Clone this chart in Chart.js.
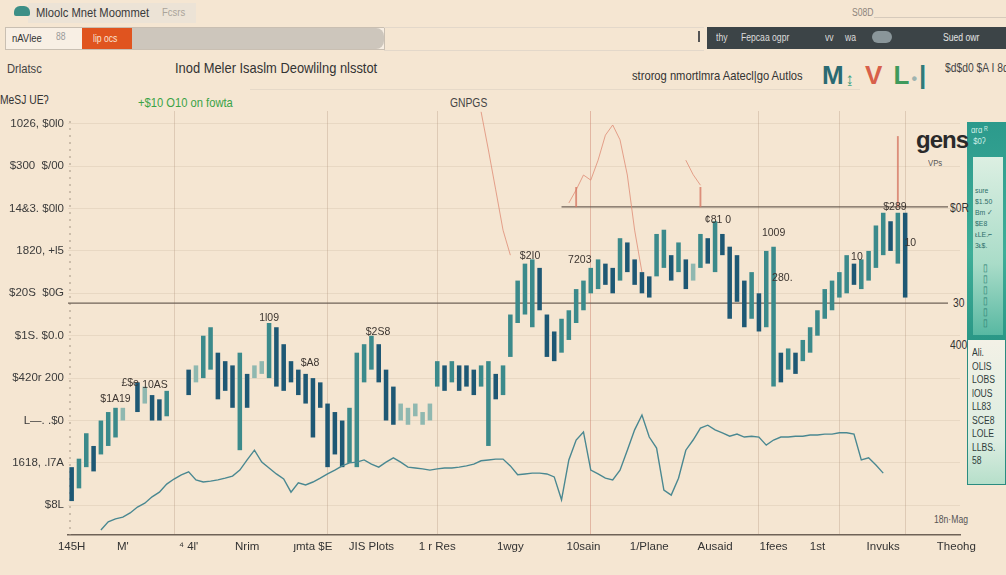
<!DOCTYPE html>
<html>
<head>
<meta charset="utf-8">
<script src="https://cdn.jsdelivr.net/npm/chart.js@4.4.1/dist/chart.umd.min.js"></script>
<style>
  body { margin: 0; background: #f5e6d2; overflow: hidden; font-family: "Liberation Sans", Arial, sans-serif; }
  #wrap { position: relative; width: 1006px; height: 575px; }
  #grafico { position: absolute; left: 0; top: 0; }
  .txt { position: absolute; white-space: nowrap; }
  .narrow { transform: scaleX(0.86); transform-origin: left top; }
</style>
</head>
<body>
<div id="wrap">
  <!-- cabecera -->
  <div class="txt" style="left:28px;top:3px;width:168px;height:20px;background:#ece3d6;"></div>
  <div class="txt" style="left:14px;top:6px;width:16px;height:10px;background:#3d8f86;border-radius:6px 6px 2px 2px;"></div>
  <div class="txt narrow" style="left:36px;top:5px;font-size:13px;color:#3a3a3a;">Mloolc Mnet Moommet</div>
  <div class="txt narrow" style="left:162px;top:6px;font-size:11px;color:#aaa39a;">Fcsrs</div>
  <div class="txt narrow" style="left:852px;top:7px;font-size:10px;color:#8d857c;">S08D</div>
  <div class="txt" style="left:874px;top:17px;width:132px;height:1px;background:#d6cabb;"></div>

  <div class="txt" style="left:5px;top:27px;width:378px;height:21px;border:1px solid #c9bfb2;background:#f8efe4;"></div>
  <div class="txt" style="left:132px;top:28px;width:252px;height:21px;background:#cdc6bc;border-radius:0 8px 8px 0;"></div>
  <div class="txt narrow" style="left:12px;top:32px;font-size:11px;color:#333;">nAVlee</div>
  <div class="txt narrow" style="left:56px;top:31px;font-size:10px;color:#9a9a9a;">88</div>
  <div class="txt" style="left:82px;top:28px;width:50px;height:21px;background:#e0541f;"></div>
  <div class="txt narrow" style="left:93px;top:33px;font-size:10px;color:#fbe3d4;">lip ocs</div>
  <div class="txt" style="left:384px;top:27px;width:320px;height:22px;border-top:1px solid #e3d8ca;border-bottom:1px solid #e3d8ca;"></div>
  <div class="txt" style="left:698px;top:31px;width:2px;height:11px;background:#555;"></div>
  <div class="txt" style="left:707px;top:27px;width:299px;height:22px;background:#3c4447;"></div>
  <div class="txt narrow" style="left:716px;top:32px;font-size:10px;color:#dcdcdc;">thy</div>
  <div class="txt narrow" style="left:741px;top:32px;font-size:10px;color:#dcdcdc;">Fepcaa ogpr</div>
  <div class="txt narrow" style="left:825px;top:32px;font-size:10px;color:#dcdcdc;">vv</div>
  <div class="txt narrow" style="left:845px;top:32px;font-size:10px;color:#dcdcdc;">wa</div>
  <div class="txt" style="left:872px;top:31px;width:20px;height:12px;background:#8a969a;border-radius:6px;"></div>
  <div class="txt narrow" style="left:943px;top:32px;font-size:10px;color:#e4e4e4;">Sued owr</div>

  <div class="txt narrow" style="left:7px;top:61px;font-size:13px;color:#444;">Drlatsc</div>
  <div class="txt narrow" style="left:175px;top:59px;font-size:15px;color:#333;">Inod Meler Isaslm Deowlilng nlsstot</div>
  <div class="txt narrow" style="left:632px;top:68px;font-size:13px;color:#333;">strorog nmortlmra Aatecl|go Autlos</div>
  <div class="txt" style="left:822px;top:60px;font-size:26px;font-weight:bold;letter-spacing:2px;">
    <span style="color:#2a6a72;">M</span><span style="color:#3fa07f;font-size:16px;">&#8616;</span>
    <span style="color:#d8604a;">V</span> <span style="color:#3f9a5c;">L</span><span style="color:#9fb4b0;font-size:16px;">&#8226;</span><span style="color:#2f7b7a;">|</span>
  </div>
  <div class="txt narrow" style="left:945px;top:61px;font-size:12px;color:#444;">$d$d0 $A I 8d</div>
  <div class="txt" style="left:250px;top:89px;width:610px;height:1px;background:#e6d9c8;"></div>

  <div class="txt narrow" style="left:0px;top:93px;font-size:12px;color:#333;">MeSJ UEʔ</div>
  <div class="txt narrow" style="left:138px;top:95px;font-size:13px;color:#3aa346;">+$10 O10 on fowta</div>
  <div class="txt narrow" style="left:450px;top:96px;font-size:12px;color:#444;">GNPGS</div>

  <!-- panel derecho -->
  <div class="txt" style="left:967px;top:122px;width:39px;height:218px;background:linear-gradient(180deg,#2c9a8c,#3eae98 60%,#2a9786);"></div>
  <div class="txt" style="left:973px;top:157px;width:30px;height:178px;background:linear-gradient(180deg,#dcefe2,#a9dcc8 60%,#58b8a2);"></div>
  <div class="txt narrow" style="left:971px;top:125px;font-size:9px;line-height:11px;color:#cdeee6;">ɑrɑ ᴿ<br>&nbsp;$0ʔ</div>
  <div class="txt narrow" style="left:975px;top:185px;font-size:8px;line-height:11px;color:#2d6e6a;">sure<br>$1.50<br>Bm ✓<br>$E8<br>ᴌLE.⌐<br>3ᴌ$.</div>
  <div class="txt narrow" style="left:983px;top:262px;font-size:10px;line-height:11px;color:#2d7d72;">▯<br>▯<br>▯<br>▯<br>▯<br>▯</div>
  <div class="txt" style="left:967px;top:340px;width:37px;height:144px;border:1px solid #2a8c80;border-top:none;background:linear-gradient(180deg,#f3f1e6,#dcede1 70%,#b6dfca);"></div>
  <div class="txt narrow" style="left:972px;top:346px;font-size:10px;line-height:13.5px;color:#2f3d3b;">Ali.<br>OLIS<br>LOBS<br>lOUS<br>LL83<br>SCE8<br>LOLE<br>LLBS.<br>58</div>
  <div class="txt" style="left:916px;top:126px;font-size:24px;font-weight:bold;color:#2a2a2a;letter-spacing:-1px;">gens</div>
  <div class="txt narrow" style="left:928px;top:158px;font-size:9px;color:#555;">VPs</div>
  <div class="txt narrow" style="left:950px;top:201px;font-size:12px;color:#333;">$0R</div>
  <div class="txt narrow" style="left:953px;top:296px;font-size:12px;color:#333;">30</div>
  <div class="txt narrow" style="left:950px;top:338px;font-size:12px;color:#333;">400</div>
  <div class="txt narrow" style="left:934px;top:514px;font-size:10px;color:#555;">18n·Mag</div>

  <canvas id="grafico" width="1006" height="575"></canvas>
</div>

<script>
// Datos (unidades del eje vertical)

const numCategorias = 122;

const etiquetasY = ['$8L', '1618, .l7A', 'L—. .$0', '$420r 200', '$1S. $0.0',
    '$20S  $0G', '1820, +l5', '14&3. $0l0', '$300  $/00', '1026, $0l0'];

const posTicksX = [0, 7, 16, 24, 33, 41, 50, 60, 70, 79, 88, 96, 102, 111, 121];
const etiquetasX = ['145H', 'M\'', '⁴ 4l\'', 'Nrim', 'ȷmta $E', 'JIS Plots', '1 r Res', '1wgy',
    '10sain', '1/Plane', 'Ausaid', '1fees', '1st', 'Invuks', 'Theohg'];

// velas: minimo y maximo de cada barra
const velaMin = [0.1, 0.4, 0.9, 0.8, 1.2, 1.4, 1.6, 2.0, null, 2.2,
    2.4, 2.0, 2.0, 2.1, null, null, 2.6, 2.9, 3.0, 3.2,
    2.5, 2.7, 2.3, 1.3, 2.3, 3.0, 3.1, 3.0, 2.8, 2.7,
    2.9, 2.6, 2.4, 1.6, 2.3, 0.9, 1.2, 0.9, 1.0, 0.9,
    2.9, 3.2, 2.9, 2.0, 1.9, 2.0, 1.9, 2.1, 1.9, 2.0,
    2.8, 2.7, 2.9, 2.7, 2.8, 2.6, 2.8, 1.4, 2.5, 2.6,
    3.5, 4.3, 4.5, 4.2, 4.6, 3.5, 3.4, 3.6, 3.9, 4.3,
    4.6, 5.0, 5.1, 5.2, 5.0, 5.3, 5.5, 5.2, 5.0, 4.9,
    5.4, 5.6, 5.3, 5.5, 5.1, 5.3, 5.6, 5.7, 5.5, 5.9,
    4.4, 4.8, 4.2, 4.4, 4.1, 4.2, 2.8, 2.9, 3.2, 3.1,
    3.4, 3.6, 4.0, 4.4, 4.6, 4.9, 5.0, 5.2, 5.1, 5.3,
    5.6, 5.9, 6.0, 5.7, 4.9];
const velaMax = [0.9, 1.1, 1.7, 1.4, 2.0, 2.2, 2.3, 2.3, null, 2.9,
    2.8, 2.6, 2.5, 2.7, null, null, 3.2, 3.3, 4.0, 4.2,
    3.6, 3.4, 3.3, 3.6, 3.1, 3.3, 3.4, 4.3, 4.2, 3.8,
    3.4, 3.2, 3.1, 3.0, 2.9, 2.4, 2.2, 2.0, 2.3, 3.6,
    3.8, 4.0, 3.8, 3.2, 2.8, 2.4, 2.3, 2.4, 2.2, 2.4,
    3.4, 3.3, 3.4, 3.3, 3.3, 3.2, 3.3, 3.4, 3.1, 3.3,
    4.5, 5.3, 5.7, 5.8, 5.6, 4.5, 4.1, 4.4, 4.6, 5.1,
    5.3, 5.6, 5.8, 5.7, 5.6, 6.3, 6.2, 5.8, 5.5, 5.4,
    6.4, 6.5, 5.9, 6.2, 5.8, 5.7, 6.4, 6.3, 6.7, 6.4,
    6.1, 5.9, 5.3, 5.5, 5.0, 6.0, 6.1, 3.6, 3.7, 3.6,
    3.9, 4.2, 4.6, 5.1, 5.3, 5.5, 5.9, 5.7, 5.8, 6.0,
    6.6, 6.9, 6.7, 6.9, 6.9];

// linea inferior (empieza en la categoria 4)
const inicioLinea = 4;
const lineaValores = [-0.58, -0.39, -0.32, -0.28, -0.18, -0.04, 0.05, 0.2, 0.31, 0.5,
    0.62, 0.72, 0.79, 0.6, 0.55, 0.57, 0.6, 0.64, 0.69, 0.83,
    1.07, 1.3, 1.02, 0.88, 0.74, 0.62, 0.31, 0.53, 0.48, 0.55,
    0.64, 0.74, 0.83, 0.93, 1.0, 1.02, 1.07, 0.97, 0.9, 1.02,
    1.12, 1.02, 0.9, 0.88, 0.86, 0.83, 0.86, 0.88, 0.88, 0.9,
    0.93, 0.97, 1.05, 1.07, 1.09, 1.09, 0.93, 0.72, 0.74, 0.76,
    0.76, 0.74, 0.67, 0.13, 1.07, 1.54, 1.73, 0.83, 0.74, 0.64,
    0.6, 0.83, 1.3, 1.78, 2.13, 1.61, 1.35, 0.36, 0.24, 0.64,
    1.3, 1.54, 1.82, 1.89, 1.78, 1.71, 1.63, 1.68, 1.61, 1.63,
    1.61, 1.42, 1.54, 1.61, 1.61, 1.63, 1.63, 1.66, 1.66, 1.68,
    1.68, 1.71, 1.71, 1.68, 1.07, 1.12, 0.95, 0.76];

// lineas rojas finas (tramos separados por null)
const senalIdx = [56, 57, 58, 59, 60, 61, 68, 69, 70, 71, 72, 73, 74, 75, 76, 77, 78, 79, 84, 85, 86];
const senalVal = [9.28, 8.38, 7.44, 6.49, 5.9, null, 7.13, 7.44, 7.79, 7.67, 8.14, 8.73, 8.97, 8.62, 7.79, 6.49, 5.5, null, 8.14, 7.8, 7.55];

// picos rojos verticales
const picoIdx = [69, 86, 113];
const picoMin = [7.04, 7.04, 7.04];
const picoMax = [7.5, 7.5, 8.7];

// niveles horizontales
const nivelValor = [4.77, 7.04];
const nivelDesde = [0, 67];

// etiquetas de valores sobre las velas
const notaTexto = ['$1A19', '£$e', '10AS', '1l09', '$A8', '$2S8', '$2I0', '7203', '¢81 0', '1009', '280.', '10', '$289', '10'];
const notaIdx = [6, 8, 11.4, 27, 32.6, 41.9, 62.7, 69.5, 88.4, 96, 97.2, 107.4, 112.6, 114.7];
const notaVal = [2.37, 2.77, 2.72, 4.3, 3.24, 3.97, 5.76, 5.67, 6.61, 6.3, 5.24, 5.72, 6.92, 6.07];

// lineas verticales de la rejilla (la 71 en tono rojizo)
const rejillaX = [14, 35, 50, 71, 94, 105, 114];
const rejillaRoja = 71;

const fuente = '"Liberation Sans", Arial, sans-serif';

function construirGrafico() {
    var categorias = [];
    var serieVelas = [];
    var serieLinea = [];
    var serieSenal = [];
    var seriePicos = [];
    for (var i = 0; i < numCategorias; i++) {
        categorias.push('d' + (i + 1));
        var lo = velaMin[i];
        serieVelas.push(lo === undefined || lo === null ? null : [lo, velaMax[i]]);
        var k = i - inicioLinea;
        serieLinea.push(k >= 0 && k < lineaValores.length ? lineaValores[k] : null);
        var s = senalIdx.indexOf(i);
        serieSenal.push(s >= 0 ? senalVal[s] : null);
        var p = picoIdx.indexOf(i);
        seriePicos.push(p >= 0 ? [picoMin[p], picoMax[p]] : null);
    }

    // color de vela: sube -> verde azulado, baja -> azul oscuro, rango corto -> palido
    var coloresVelas = serieVelas.map(function (v, i) {
        if (!v) return 'transparent';
        var prev = serieVelas[i - 1];
        if (v[1] - v[0] < 0.45) return '#8fb8b0';
        if (prev && v[1] > prev[1]) return '#3b8a8b';
        return '#1e5874';
    });

    const nivelesPlugin = {
        id: 'niveles',
        beforeDatasetsDraw(chart) {
            const { ctx, chartArea, scales } = chart;
            ctx.save();
            // eje vertical punteado
            ctx.strokeStyle = '#a49584';
            ctx.setLineDash([2, 5]);
            ctx.beginPath();
            ctx.moveTo(chartArea.left + 2, chartArea.top + 10);
            ctx.lineTo(chartArea.left + 2, chartArea.bottom);
            ctx.stroke();
            ctx.setLineDash([]);
            ctx.strokeStyle = '#6f6257';
            ctx.lineWidth = 1.3;
            nivelValor.forEach(function (v, n) {
                var y = scales.y.getPixelForValue(v);
                var x0 = nivelDesde[n] === 0 ? chartArea.left : scales.x.getPixelForValue(nivelDesde[n]);
                ctx.beginPath();
                ctx.moveTo(x0, y);
                ctx.lineTo(chartArea.right - 12, y);
                ctx.stroke();
            });
            ctx.restore();
        },
        afterDatasetsDraw(chart) {
            const { ctx, scales } = chart;
            ctx.save();
            ctx.font = '10.5px ' + fuente;
            ctx.fillStyle = '#3c3530';
            ctx.textAlign = 'center';
            ctx.textBaseline = 'bottom';
            notaTexto.forEach(function (t, n) {
                var x = scales.x.getPixelForValue(notaIdx[n]);
                var y = scales.y.getPixelForValue(notaVal[n]);
                ctx.fillText(t, x, y);
            });
            ctx.restore();
        }
    };

    new Chart(document.getElementById('grafico'), {
        type: 'bar',
        data: {
            labels: categorias,
            datasets: [
                {
                    label: 'Velas',
                    data: serieVelas,
                    backgroundColor: coloresVelas,
                    barPercentage: 0.62,
                    categoryPercentage: 1,
                    grouped: false,
                    order: 2
                },
                {
                    label: 'Picos',
                    data: seriePicos,
                    backgroundColor: 'rgba(214,120,100,0.8)',
                    barThickness: 1.2,
                    grouped: false,
                    order: 3
                },
                {
                    type: 'line',
                    label: 'Volumen',
                    data: serieLinea,
                    borderColor: '#4a8891',
                    borderWidth: 1.4,
                    pointRadius: 0,
                    tension: 0,
                    order: 1
                },
                {
                    type: 'line',
                    label: 'Senal',
                    data: serieSenal,
                    borderColor: 'rgba(222,140,118,0.8)',
                    borderWidth: 1,
                    pointRadius: 0,
                    spanGaps: false,
                    order: 4
                }
            ]
        },
        options: {
            responsive: false,
            animation: false,
            layout: { padding: { left: 2, right: 46, top: 111, bottom: 12 } },
            plugins: {
                legend: { display: false },
                tooltip: { enabled: false }
            },
            scales: {
                x: {
                    afterFit: function (scale) { scale.height = 28; },
                    grid: {
                        offset: false,
                        drawTicks: false,
                        color: function (c) {
                            if (c.index === rejillaRoja) return 'rgba(205,125,105,0.45)';
                            return rejillaX.indexOf(c.index) >= 0 ? 'rgba(170,140,115,0.3)' : 'transparent';
                        }
                    },
                    border: { color: '#6f6257', width: 1.5 },
                    ticks: {
                        autoSkip: false,
                        maxRotation: 0,
                        padding: 5,
                        color: '#333',
                        font: { family: fuente, size: 11.5 },
                        callback: function (val, i) {
                            var n = posTicksX.indexOf(i);
                            return n >= 0 ? etiquetasX[n] : '';
                        }
                    }
                },
                y: {
                    min: -0.7,
                    max: 9.3,
                    afterFit: function (scale) { scale.width = 66; },
                    afterBuildTicks: function (scale) {
                        scale.ticks = etiquetasY.map(function (t, n) { return { value: n }; });
                    },
                    grid: { color: 'rgba(170,145,120,0.16)', drawTicks: false },
                    border: { display: false },
                    ticks: {
                        padding: 4,
                        color: '#3a3a3a',
                        font: { family: fuente, size: 11.5 },
                        callback: function (val) { return etiquetasY[val] || ''; }
                    }
                }
            }
        },
        plugins: [nivelesPlugin]
    });
}

construirGrafico();
</script>
</body>
</html>
